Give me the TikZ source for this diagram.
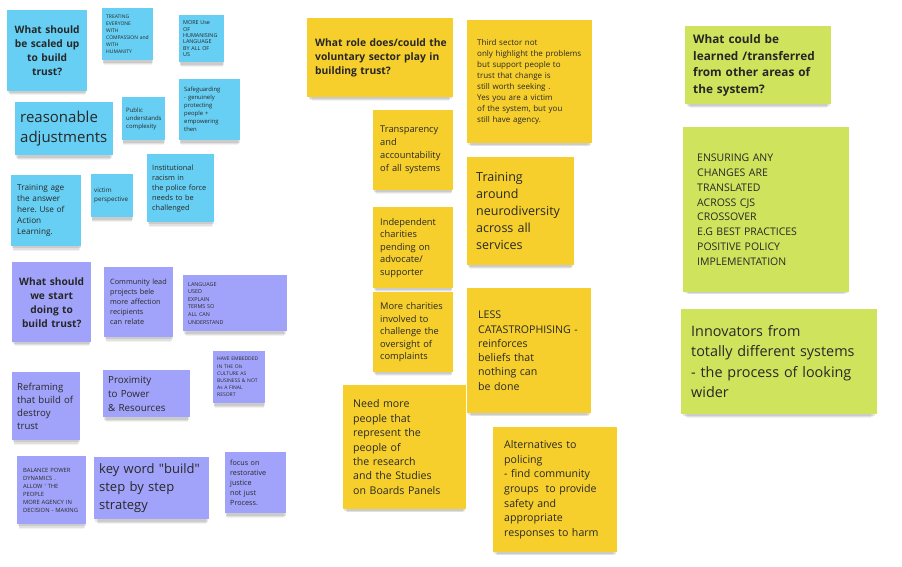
\documentclass[tikz,border=0pt]{standalone}
\usepackage{fontspec}
\setmainfont{Open Sans}[Ligatures=TeXOff]
\usetikzlibrary{shadows}

\definecolor{stickyblue}{RGB}{102,207,243}
\definecolor{stickyviolet}{RGB}{161,163,250}
\definecolor{stickyyellow}{RGB}{246,207,45}
\definecolor{stickygreen}{RGB}{207,227,92}
\definecolor{notetext}{RGB}{40,40,40}
\newcommand{\nfs}[2]{\fontsize{#1}{#2}\selectfont}
\frenchspacing

\begin{document}
\begin{tikzpicture}[x=1pt, y=-1pt,
    note/.style={anchor=north west, inner ysep=1pt, align=left, text=notetext,
        drop shadow={shadow xshift=0pt, shadow yshift=-7pt, shadow scale=0.94, opacity=0.05, fill=black},
        drop shadow={shadow xshift=0pt, shadow yshift=-5pt, shadow scale=0.96, opacity=0.07, fill=black},
        drop shadow={shadow xshift=0pt, shadow yshift=-3pt, shadow scale=0.98, opacity=0.09, fill=black}},
    blue note/.style={note, fill=stickyblue},
    violet note/.style={note, fill=stickyviolet},
    yellow note/.style={note, fill=stickyyellow},
    green note/.style={note, fill=stickygreen},
    head/.style={text=black!85}]
    \fill[white] (0,0) rectangle (902,567);
    \useasboundingbox (0,0) rectangle (902,567);

    % scaled up
    \node[blue note, head, align=center, minimum width=80pt, minimum height=81pt, text width=72pt, inner xsep=4pt, font=\bfseries\nfs{10.2}{14}] (scaleq) at (7,10) {What should\\be scaled up\\to build\\trust?};
    \node[blue note, minimum width=51pt, minimum height=52pt, text width=43pt, inner xsep=4pt, font=\nfs{5}{7}] (treating) at (102,8) {TREATING\\EVERYONE\\WITH\\COMPASSION~and\\WITH\\HUMANITY};
    \node[blue note, minimum width=45pt, minimum height=47pt, text width=37pt, inner xsep=4pt, font=\nfs{5.4}{6.3}] (humanising) at (179,15) {MORE Use\\OF\\HUMANISING\\LANGUAGE\\BY~ALL~OF\\US};
    \node[blue note, minimum width=98pt, minimum height=53pt, text width=88pt, inner xsep=5pt, font=\nfs{15}{20}] (reasonable) at (15,102) {reasonable\\adjustments};
    \node[blue note, minimum width=43pt, minimum height=43pt, text width=35pt, inner xsep=4pt, font=\nfs{6}{8}] (public) at (122,97) {Public\\understands\\complexity};
    \node[blue note, minimum width=61pt, minimum height=61pt, text width=51pt, inner xsep=5pt, font=\nfs{5.9}{8}] (safeguarding) at (179,79) {Safeguarding\\- genuinely\\protecting\\people +\\empowering\\then};
    \node[blue note, minimum width=70pt, minimum height=71pt, text width=58pt, inner xsep=6pt, font=\nfs{8.2}{11}] (trainingage) at (11,175) {Training age\\the answer\\here. Use of\\Action\\Learning.};
    \node[blue note, minimum width=42pt, minimum height=43pt, text width=36pt, inner xsep=3pt, font=\nfs{6.3}{9}] (victim) at (91,174) {victim\\perspective};
    \node[blue note, minimum width=67pt, minimum height=68pt, text width=57pt, inner xsep=5pt, font=\nfs{7.4}{10}] (racism) at (147,154) {Institutional\\racism in\\the~police~force\\needs to be\\challenged};

    % start doing
    \node[violet note, head, align=center, minimum width=79pt, minimum height=80pt, text width=71pt, inner xsep=4pt, font=\bfseries\nfs{10.2}{14}] (startq) at (12,262) {What should\\we start\\doing to\\build trust?};
    \node[violet note, minimum width=69pt, minimum height=70pt, text width=57pt, inner xsep=6pt, font=\nfs{7.3}{10}] (community) at (104,267) {Community~lead\\projects bele\\more~affection\\recipients\\can relate};
    \node[violet note, minimum width=104pt, minimum height=56pt, text width=94pt, inner xsep=5pt, font=\nfs{5.4}{7.6}] (language) at (183,275) {LANGUAGE\\USED\\EXPLAIN\\TERMS SO\\ALL CAN\\UNDERSTAND};
    \node[violet note, minimum width=52pt, minimum height=52pt, text width=44pt, inner xsep=4pt, font=\nfs{5}{7.2}] (embedded) at (213,351) {HAVE~EMBEDDED\\IN THE OIs\\CULTURE AS\\BUSINESS~\&~NOT\\As A FINAL\\RESORT};
    \node[violet note, minimum width=68pt, minimum height=68pt, text width=58pt, inner xsep=5pt, font=\nfs{9.6}{13}] (reframing) at (12,372) {Reframing\\that~build~of\\destroy\\trust};
    \node[violet note, minimum width=87pt, minimum height=47pt, text width=77pt, inner xsep=5pt, font=\nfs{9.8}{13.8}] (proximity) at (103,370) {Proximity\\to Power\\\& Resources};
    \node[violet note, minimum width=69pt, minimum height=68pt, text width=57pt, inner xsep=6pt, font=\nfs{5.8}{8}] (balance) at (17,456) {BALANCE~POWER\\DYNAMICS .\\ALLOW~'~THE\\PEOPLE\\MORE~AGENCY~IN\\DECISION~-~MAKING};
    \node[violet note, minimum width=115pt, minimum height=62pt, text width=105pt, inner xsep=5pt, font=\nfs{13}{18}] (keyword) at (94,457) {key~word~"build"\\step by step\\strategy};
    \node[violet note, minimum width=61pt, minimum height=61pt, text width=51pt, inner xsep=5pt, font=\nfs{7.2}{9.8}] (restorative) at (225,452) {focus on\\restorative\\justice\\not just\\Process.};

    % voluntary sector
    \node[yellow note, head, minimum width=146pt, minimum height=79pt, text width=130pt, inner xsep=8pt, font=\bfseries\nfs{10.3}{14.3}] (roleq) at (307,18) {What~role~does/could~the\\voluntary~sector~play~in\\building trust?};
    \node[yellow note, minimum width=125pt, minimum height=123pt, text width=105pt, inner xsep=10pt, font=\nfs{8}{11}] (thirdsector) at (467,20) {Third sector not\\only~highlight~the~problems\\but support people to\\trust that change is\\still worth seeking .\\Yes you are a victim\\of the system, but you\\still have agency.};
    \node[yellow note, minimum width=80pt, minimum height=80pt, text width=66pt, inner xsep=7pt, font=\nfs{9.3}{13}] (transparency) at (373,110) {Transparency\\and\\accountability\\of all systems};
    \node[yellow note, minimum width=107pt, minimum height=108pt, text width=89pt, inner xsep=9pt, font=\nfs{12.5}{17}] (neuro) at (467,157) {Training\\around\\neurodiversity\\across all\\services};
    \node[yellow note, minimum width=80pt, minimum height=81pt, text width=66pt, inner xsep=7pt, font=\nfs{9.3}{12.5}] (independent) at (373,207) {Independent\\charities\\pending on\\advocate/\\supporter};
    \node[yellow note, minimum width=80pt, minimum height=80pt, text width=66pt, inner xsep=7pt, font=\nfs{9.3}{12.5}] (morecharities) at (373,292) {More~charities\\involved to\\challenge~the\\oversight of\\complaints};
    \node[yellow note, minimum width=124pt, minimum height=125pt, text width=102pt, inner xsep=11pt, font=\nfs{10.6}{14.3}] (catastroph) at (467,288) {LESS\\CATASTROPHISING~-\\reinforces\\beliefs that\\nothing can\\be done};
    \node[yellow note, minimum width=123pt, minimum height=124pt, text width=103pt, inner xsep=10pt, font=\nfs{10.6}{14.4}] (needmore) at (343,385) {Need more\\people that\\represent the\\people of\\the research\\and the Studies\\on~Boards~Panels};
    \node[yellow note, minimum width=124pt, minimum height=125pt, text width=102pt, inner xsep=11pt, font=\nfs{10.6}{14.6}] (alternatives) at (493,427) {Alternatives to\\policing\\- find community\\groups~~to~provide\\safety and\\appropriate\\responses~to~harm};

    % other areas
    \node[green note, head, minimum width=146pt, minimum height=78pt, text width=130pt, inner xsep=8pt, font=\bfseries\nfs{11.8}{16.5}] (learnq) at (685,26) {What could be\\learned~/transferred\\from other areas of\\the system?};
    \node[green note, minimum width=166pt, minimum height=165pt, text width=138pt, inner xsep=14pt, font=\nfs{10.5}{14.8}] (ensuring) at (683,127) {ENSURING ANY\\CHANGES ARE\\TRANSLATED\\ACROSS CJS\\CROSSOVER\\E.G BEST PRACTICES\\POSITIVE POLICY\\IMPLEMENTATION};
    \node[green note, minimum width=196pt, minimum height=105pt, text width=176pt, inner xsep=10pt, font=\nfs{14.4}{20.5}] (innovators) at (681,309) {Innovators from\\totally~different~systems\\- the process of looking\\wider};
\end{tikzpicture}
\end{document}
